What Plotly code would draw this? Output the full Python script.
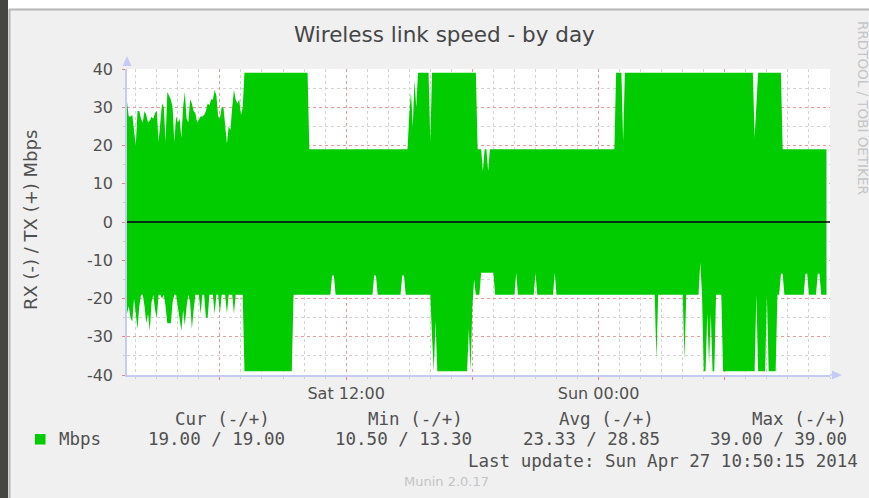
import numpy as np
import pandas as pd
import plotly.graph_objects as go

# ---------------- data ----------------
title_text = "Wireless link speed - by day"
y_title = "RX (-) / TX (+) Mbps"
start_time = "2014-04-26 01:35"
end_time = "2014-04-27 11:00"
sample_minutes = 5

# TX (+): first part read sample by sample, then run-length (level, count)
tx_noisy = [31.5, 27.6, 27.6, 28, 24, 20, 29, 29, 27, 26,
            29, 28, 26, 26.5, 27.5, 27, 28.5, 29, 21, 27,
            31, 30, 21, 34, 33, 32, 30, 21, 27.6, 26,
            27, 22, 30, 34, 27, 26, 32, 31, 29, 28.5,
            26, 27, 27.6, 27.6, 28, 29, 31, 30.5, 32, 32,
            34.5, 33, 27.6, 27, 30, 30, 24, 20.5, 25, 24,
            30, 34.5, 32, 31, 32, 28, 30]
tx_levels = [39, 19, 28, 34, 25, 37, 30, 39, 21, 39, 19, 13.3, 19, 13.3, 19,
             39, 21, 39, 22, 30, 39, 19]
tx_counts = [37, 57, 1, 1, 1, 1, 1, 7, 1, 26, 3, 1, 2, 1, 72,
             4, 1, 74, 1, 1, 14, 26]

# RX (-)
rx_noisy = [-24, -22, -25, -26, -20, -24, -28, -22, -19, -19,
            -22, -26.5, -24, -28.5, -21, -19, -23, -25, -19, -19,
            -20, -19, -22, -26.5, -26.5, -26.5, -21, -19, -19, -22,
            -25, -28.5, -23, -27, -22, -19, -21, -28, -23, -19,
            -19, -19, -24, -19, -19, -25, -25, -19, -19, -19,
            -24, -19, -19, -24, -19, -19, -19, -24, -19, -19,
            -19, -24, -19, -19, -19, -19, -19]
rx_levels = [-39, -19, -14, -19, -14, -19, -14, -19, -30, -39, -26, -39, -28, -39, -22,
             -15, -19, -13.3, -19, -13.3, -19, -13.3, -19, -13.3, -19, -36, -19, -36, -19,
             -10.5, -19, -39, -24, -37, -24, -39, -19, -39, -19, -39, -19, -39, -19,
             -13.5, -19, -13.5, -19, -13.5, -19]
rx_counts = [28, 22, 2, 22, 2, 14, 2, 15, 1, 1, 1, 18, 1, 1, 1,
             1, 3, 8, 12, 1, 10, 1, 10, 1, 57, 1, 15, 1, 8,
             1, 1, 2, 1, 1, 1, 2, 4, 19, 1, 5, 1, 5, 2,
             2, 12, 2, 5, 2, 4]

x_tick_times = ["2014-04-26 06:00", "2014-04-26 12:00", "2014-04-26 18:00",
                "2014-04-27 00:00", "2014-04-27 06:00"]
x_tick_labels = ["", "Sat 12:00", "", "Sun 00:00", ""]
y_ticks = [40, 30, 20, 10, 0, -10, -20, -30, -40]
y_tick_labels = ["40", "30", "20", "10", "0", "-10", "-20", "-30", "-40"]

legend_name = "Mbps"
legend_headers = ["Cur (-/+)", "Min (-/+)", "Avg (-/+)", "Max (-/+)"]
legend_values = ["19.00 / 19.00", "10.50 / 13.30", "23.33 / 28.85", "39.00 / 39.00"]
last_update = "Last update: Sun Apr 27 10:50:15 2014"
footer = "Munin 2.0.17"
side_text = "RRDTOOL / TOBI OETIKER"

# ---------------- build series ----------------
tx = np.concatenate([tx_noisy, np.repeat(tx_levels, tx_counts)])
rx = np.concatenate([rx_noisy, np.repeat(rx_levels, rx_counts)])
times_tx = pd.date_range(start_time, periods=len(tx), freq=f"{sample_minutes}min")
times_rx = pd.date_range(start_time, periods=len(rx), freq=f"{sample_minutes}min")

GREEN = "#00cc00"
W, H = 869, 498
L, R, T, B = 127, 830, 69, 375


def px(x):
    return (x - L) / (R - L)


def py(y):
    return (B - y) / (B - T)


fig = go.Figure()
fig.add_trace(go.Scatter(x=times_tx, y=tx, mode="lines", line=dict(width=0, color=GREEN),
                         fill="tozeroy", fillcolor=GREEN, hoverinfo="skip", showlegend=False))
fig.add_trace(go.Scatter(x=times_rx, y=rx, mode="lines", line=dict(width=0, color=GREEN),
                         fill="tozeroy", fillcolor=GREEN, hoverinfo="skip", showlegend=False))

AXIS_BLUE = "#c4ccf6"
TXT = "#505050"
FONT = "DejaVu Sans"
MONO = "DejaVu Sans Mono"

fig.update_layout(
    width=W, height=H, autosize=False,
    margin=dict(l=L, r=W - R, t=T, b=H - B, pad=0),
    paper_bgcolor="#f0f0f0", plot_bgcolor="#ffffff",
    showlegend=False,
    font=dict(family=FONT, color=TXT, size=16),
    xaxis=dict(
        type="date", range=[start_time, end_time], fixedrange=True,
        tickmode="array", tickvals=x_tick_times, ticktext=x_tick_labels,
        ticks="outside", ticklen=3, tickcolor="#f08080", tickwidth=1,
        showgrid=True, gridcolor="#f29a9a", griddash="dot", gridwidth=1,
        showline=True, linecolor=AXIS_BLUE, linewidth=1.5,
        zeroline=False, tickfont=dict(size=16, color=TXT, family=FONT),
        ticklabelstandoff=0,
        minor=dict(dtick=3600000, tick0="2014-04-26 00:00", showgrid=True,
                   gridcolor="#d4d4d4", griddash="dot", gridwidth=1,
                   ticks="outside", ticklen=2, tickcolor="#cccccc"),
    ),
    yaxis=dict(
        range=[-40, 40], fixedrange=True,
        tickmode="array", tickvals=y_ticks, ticktext=y_tick_labels,
        ticks="outside", ticklen=3, tickcolor="#f08080",
        showgrid=True, gridcolor="#f29a9a", griddash="dot", gridwidth=1,
        showline=True, linecolor=AXIS_BLUE, linewidth=1.5,
        zeroline=False, tickfont=dict(size=16, color=TXT, family=FONT),
        ticklabelstandoff=6,
        minor=dict(dtick=5, tick0=0, showgrid=True, gridcolor="#d4d4d4",
                   griddash="dot", gridwidth=1, ticks="outside", ticklen=2,
                   tickcolor="#cccccc"),
    ),
)

shapes = []
# page frame
shapes.append(dict(type="rect", xref="paper", yref="paper", x0=px(0), x1=px(W), y0=py(9), y1=py(0),
                   fillcolor="#ffffff", line=dict(width=0), layer="above"))
shapes.append(dict(type="rect", xref="paper", yref="paper", x0=px(0), x1=px(8), y0=py(H), y1=py(0),
                   fillcolor="#45463f", line=dict(width=0), layer="above"))
shapes.append(dict(type="line", xref="paper", yref="paper", x0=px(9.5), x1=px(9.5), y0=py(9), y1=py(H),
                   line=dict(color="#b6b6b6", width=2), layer="above"))
shapes.append(dict(type="line", xref="paper", yref="paper", x0=px(9), x1=px(W), y0=py(9.5), y1=py(9.5),
                   line=dict(color="#b6b6b6", width=2), layer="above"))
# zero line
shapes.append(dict(type="line", xref="paper", yref="y", x0=0, x1=1, y0=0, y1=0,
                   line=dict(color="#000000", width=1.5), layer="above"))
# axis arrows
shapes.append(dict(type="path", xref="paper", yref="paper",
                   path=f"M {px(127)} {py(56)} L {px(122.5)} {py(66)} L {px(131.5)} {py(66)} Z",
                   fillcolor=AXIS_BLUE, line=dict(width=0), layer="above"))
shapes.append(dict(type="line", xref="paper", yref="paper", x0=px(830), x1=px(833), y0=0, y1=0,
                   line=dict(color=AXIS_BLUE, width=1.5), layer="above"))
shapes.append(dict(type="path", xref="paper", yref="paper",
                   path=f"M {px(842)} {py(375)} L {px(832)} {py(370.5)} L {px(832)} {py(379.5)} Z",
                   fillcolor=AXIS_BLUE, line=dict(width=0), layer="above"))
# legend swatch
shapes.append(dict(type="rect", xref="paper", yref="paper", x0=px(35), x1=px(45.5), y0=py(444.5), y1=py(434),
                   fillcolor=GREEN, line=dict(width=0)))
fig.update_layout(shapes=shapes)

ann = []


def text(x, y, s, size, family=FONT, color=TXT, xanchor="center", angle=0):
    ann.append(dict(x=px(x), y=py(y), xref="paper", yref="paper", text=s, showarrow=False,
                    xanchor=xanchor, yanchor="middle", textangle=angle,
                    font=dict(size=size, family=family, color=color)))


text(444.5, 35, title_text, 21.5, color="#454545")
text(30, 220, y_title, 18, angle=-90)
text(863, 108, side_text, 13.5, color="#c6c6c6", angle=90)
text(57, 439, legend_name, 17.5, family=MONO, xanchor="left")
head_x = [222.5, 415, 606.5, 799]
val_x = [216.5, 403.5, 591, 778]
for hx, h in zip(head_x, legend_headers):
    text(hx, 419, h, 17.5, family=MONO)
for vx, v in zip(val_x, legend_values):
    text(vx, 439, v, 17.5, family=MONO)
text(663, 461, last_update, 17.5, family=MONO)
text(446, 481, footer, 13, color="#c4c4c4")
fig.update_layout(annotations=ann)

fig.write_html("out.html", config={"displayModeBar": False},
               post_script="document.documentElement.style.margin='0';document.body.style.margin='0';")
